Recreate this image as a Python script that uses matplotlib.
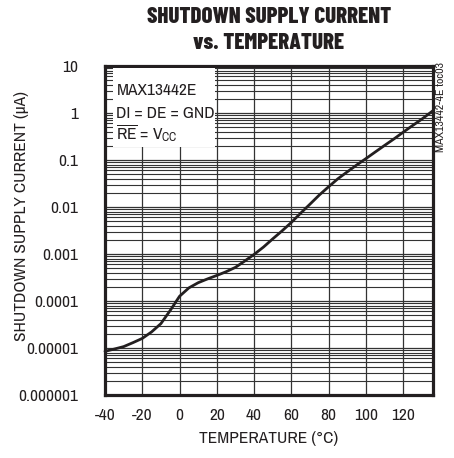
import matplotlib
matplotlib.use("Agg")
import matplotlib.pyplot as plt
from matplotlib.patches import Rectangle
from matplotlib.ticker import FixedLocator, LogLocator, NullFormatter

# ---- data ----
temperature_c = [-40, -35, -30, -25, -20, -15, -10, -5, 0, 5, 10, 15, 20, 25, 30,
                 35, 40, 45, 50, 55, 60, 65, 70, 75, 80, 85, 90, 95, 100, 105,
                 110, 115, 120, 125, 130, 136]
current_ua = [8.5e-6, 9.5e-6, 1.07e-5, 1.3e-5, 1.6e-5, 2.2e-5, 3.3e-5, 6.3e-5,
              1.26e-4, 1.9e-4, 2.45e-4, 2.95e-4, 3.5e-4, 4.2e-4, 5.2e-4, 7.1e-4,
              9.8e-4, 1.4e-3, 2.1e-3, 3.1e-3, 4.7e-3, 7.4e-3, 1.15e-2, 1.8e-2,
              2.7e-2, 4.0e-2, 5.6e-2, 7.8e-2, 0.107, 0.148, 0.204, 0.28, 0.39,
              0.54, 0.74, 1.12]
x_ticks = [-40, -20, 0, 20, 40, 60, 80, 100, 120]
y_ticks = [1e-6, 1e-5, 1e-4, 1e-3, 1e-2, 1e-1, 1, 10]
y_tick_labels = ["0.000001", "0.00001", "0.0001", "0.001", "0.01", "0.1", "1", "10"]

FONT = ["Archivo Narrow", "DejaVu Sans"]
TITLE_FONT = ["Barlow Condensed", "DejaVu Sans"]
plt.rcParams["font.family"] = FONT
plt.rcParams["mathtext.fontset"] = "custom"
plt.rcParams["mathtext.rm"] = "Archivo Narrow"
plt.rcParams["mathtext.it"] = "Archivo Narrow"

INK = "#231f20"
FS = 12.5

fig = plt.figure(figsize=(4.54, 4.58), dpi=100)
ax = fig.add_axes([105/454, 1-395/458, 328/454, 329/458])

ax.set_yscale("log")
ax.set_xlim(-40, 136)
ax.set_ylim(1e-6, 10)

ax.set_xticks(x_ticks)
ax.set_xticklabels([str(t) for t in x_ticks])
ax.yaxis.set_major_locator(FixedLocator(y_ticks))
ax.set_yticklabels(y_tick_labels)
ax.yaxis.set_minor_locator(LogLocator(base=10, subs=range(2, 10), numticks=20))
ax.yaxis.set_minor_formatter(NullFormatter())

ax.tick_params(axis="both", which="both", length=0, labelsize=FS, colors=INK)
ax.tick_params(axis="x", pad=9)
ax.tick_params(axis="y", pad=19)

ax.grid(True, which="major", axis="both", color="#333333", linewidth=0.9)
ax.grid(True, which="minor", axis="y", color="#333333", linewidth=0.8)
ax.set_axisbelow(True)

for s in ax.spines.values():
    s.set_linewidth(2.3)
    s.set_color(INK)

ax.plot(temperature_c, current_ua, color=INK, linewidth=2.0,
        solid_capstyle="round", clip_on=False, zorder=5)

# annotation box
ax.add_patch(Rectangle((0.024, 0.755), 0.311, 0.238, transform=ax.transAxes,
                       facecolor="white", edgecolor="none", zorder=3))
ax.text(0.035, 0.925, "MAX13442E", transform=ax.transAxes, fontsize=FS,
        color=INK, va="center", ha="left", zorder=4)
ax.text(0.035, 0.856, "DI = DE = GND", transform=ax.transAxes, fontsize=FS,
        color=INK, va="center", ha="left", zorder=4)
ax.text(0.035, 0.795, r"$\overline{\mathrm{RE}}$ = V$_{\mathrm{CC}}$", transform=ax.transAxes,
        fontsize=FS, color=INK, va="center", ha="left", zorder=4)

ax.set_xlabel("TEMPERATURE (°C)", fontsize=FS, color=INK, labelpad=6)
fig.text(22/454, 1-216/458, "SHUTDOWN SUPPLY CURRENT (µA)", rotation=90,
         ha="center", va="center", fontsize=FS, color=INK)

fig.text(269/454, 1-17/458, "SHUTDOWN SUPPLY CURRENT", ha="center", va="center",
         fontsize=16.5, fontweight=800, color=INK, family=TITLE_FONT)
fig.text(269/454, 1-43/458, "vs. TEMPERATURE", ha="center", va="center",
         fontsize=16.5, fontweight=800, color=INK, family=TITLE_FONT)

fig.text(441/454, 1-62/458, "MAX13442-4E toc03", rotation=90, ha="center", va="top",
         fontsize=8.5, color=INK)

fig.savefig("out.png", dpi=100)
